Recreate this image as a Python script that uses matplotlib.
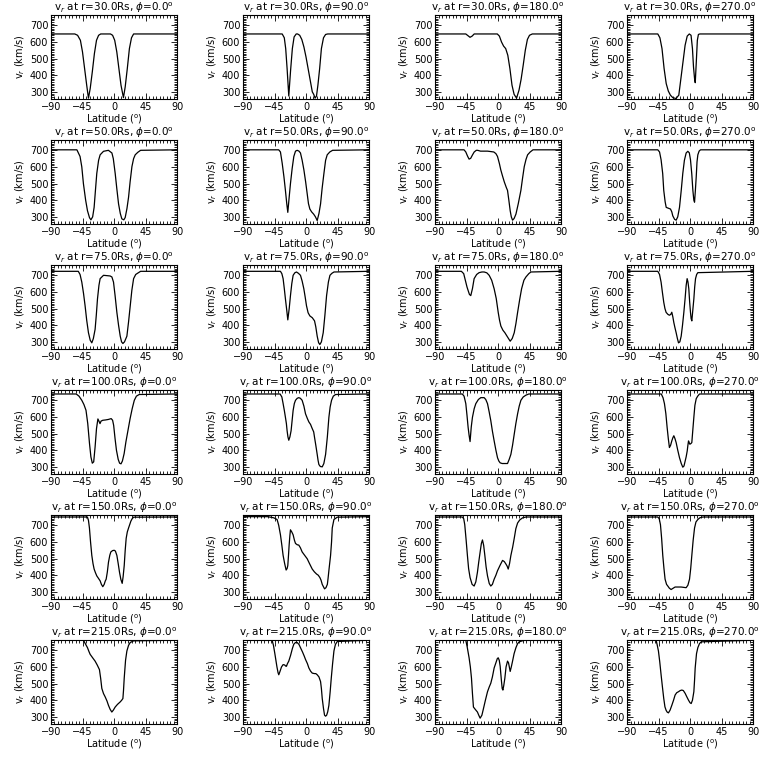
import matplotlib
matplotlib.use("Agg")
import matplotlib.pyplot as plt
from matplotlib.ticker import MultipleLocator

radii = [30, 50, 75, 100, 150, 215]
phis = [0, 90, 180, 270]

# ---- r = 30 Rs ----
lat_30_0 = [-90, -56, -52, -48, -45, -42, -39, -36.5, -34, -31, -28, -25, -22, -19, -5, -2, 1, 4, 7, 10, 13.5, 16, 19, 22, 25, 28, 90]
v_30_0 = [648, 648, 640, 610, 540, 440, 340, 262, 320, 420, 530, 610, 640, 648, 648, 640, 610, 540, 440, 340, 265, 330, 440, 560, 625, 648, 648]
lat_30_90 = [-90, -34, -31, -29, -27, -24.6, -22, -19.5, -17, -14, -12, -9, -6, -3, 0, 3, 6, 9, 11, 13, 15, 17, 19.5, 22, 25, 28, 31, 90]
v_30_90 = [648, 648, 625, 560, 440, 275, 430, 560, 630, 648, 648, 640, 615, 570, 510, 440, 370, 300, 285, 262, 275, 340, 440, 560, 625, 645, 648, 648]
lat_30_180 = [-90, -46, -43, -40, -37, -34, -1, 2, 5, 8, 11, 14, 17, 20, 23, 26.5, 30, 33, 36, 39, 42, 45, 49, 90]
v_30_180 = [648, 648, 638, 628, 635, 648, 648, 635, 600, 575, 560, 520, 440, 340, 285, 262, 310, 375, 460, 550, 615, 640, 648, 648]
lat_30_270 = [-90, -46, -43, -40, -37, -34, -31, -28, -24.6, -20, -16, -13, -10, -7, -4, -1, 1.5, 3.5, 5, 6.5, 7.5, 9, 10.5, 12, 14, 90]
v_30_270 = [648, 648, 625, 560, 440, 350, 305, 280, 265, 260, 280, 380, 480, 580, 635, 648, 640, 560, 450, 380, 355, 480, 610, 645, 648, 648]

# ---- r = 50 Rs ----
lat_50_0 = [-90, -53, -48.5, -46, -43.7, -40.5, -37.9, -35, -33, -30.5, -28.4, -26.5, -24.6, -22, -19.8, -15, -8, -3, -1, 1.7, 4, 6.5, 9, 11.2, 14, 16, 18.5, 20.8, 23, 25.6, 28, 30.3, 34, 38, 90]
v_50_0 = [703, 703, 663, 600, 500, 400, 337, 295, 282, 300, 357, 460, 561, 640, 673, 694, 700, 684, 650, 561, 470, 378, 320, 288, 282, 296, 350, 418, 510, 602, 650, 673, 688, 700, 703]
lat_50_90 = [-90, -39, -36.5, -34, -31.5, -29.4, -27.5, -26, -24, -22.2, -19.8, -17.4, -15, -12.6, -10, -7.9, -5.5, -3, -0.5, 1.7, 3.5, 5.5, 8, 11, 13.5, 16, 18.5, 20.8, 23, 25.6, 28, 30.3, 34, 38, 90]
v_50_90 = [703, 703, 690, 622, 540, 459, 380, 327, 420, 500, 590, 663, 695, 700, 695, 684, 640, 582, 510, 439, 380, 347, 330, 316, 300, 278, 320, 378, 470, 561, 640, 673, 690, 700, 703]
lat_50_180 = [-90, -48.5, -46, -43.5, -41.3, -39, -36.5, -34, -31, -29, -25, -15, -6, -3, -0.7, 2, 4, 6.5, 9, 12, 13.6, 15.5, 17.4, 19, 20.8, 23, 25.6, 29, 32.7, 35, 37.5, 40, 42.3, 46, 50, 90]
v_50_180 = [703, 703, 690, 665, 647, 652, 672, 690, 700, 700, 695, 695, 690, 680, 663, 620, 582, 545, 510, 475, 459, 400, 337, 300, 280, 290, 316, 380, 459, 530, 602, 645, 673, 690, 703, 703]
lat_50_270 = [-90, -46, -43.5, -41.3, -39, -37.5, -35.5, -34, -31, -27.9, -26, -24.6, -22, -19.8, -17.5, -15, -12.5, -10.3, -8, -5.5, -3.1, -1, 0.7, 2.5, 4.1, 5.5, 6.5, 7.7, 8.9, 10, 11.2, 13, 15, 90]
v_50_270 = [703, 703, 690, 643, 560, 459, 390, 357, 352, 347, 330, 306, 285, 280, 300, 357, 460, 561, 640, 684, 694, 685, 643, 560, 459, 400, 388, 460, 541, 630, 673, 695, 703, 703]

# ---- r = 75 Rs ----
lat_75_0 = [-90, -51, -48.5, -46, -43.5, -41.3, -39, -36.5, -34, -31.7, -29.5, -27, -25.3, -23.6, -21.5, -19.8, -15, -10, -5.5, -3, -0.7, 1.5, 4.1, 6.5, 8.9, 10.8, 12.7, 15, 18.4, 20.8, 23.2, 25.5, 28, 31, 35, 38, 90]
v_75_0 = [724, 724, 705, 659, 590, 517, 430, 355, 310, 294, 320, 375, 460, 558, 640, 680, 700, 698, 696, 690, 659, 580, 477, 400, 334, 300, 290, 300, 334, 420, 517, 610, 680, 705, 716, 724, 724]
lat_75_90 = [-90, -36.5, -34.5, -32.7, -31, -29.4, -27.5, -26, -24, -22.2, -20.3, -18.4, -16, -13.6, -10.8, -7.9, -5.5, -3.1, -1.2, 0.7, 3, 5.5, 9, 12.2, 14, 16, 18, 19.8, 22, 24.6, 27, 29.4, 32, 34.2, 37, 40, 90]
v_75_90 = [724, 724, 710, 680, 620, 558, 490, 432, 500, 578, 650, 700, 715, 720, 712, 700, 665, 619, 570, 517, 475, 456, 445, 426, 390, 334, 295, 284, 300, 355, 460, 578, 660, 700, 712, 720, 724]
lat_75_180 = [-90, -52.3, -49, -46, -44.3, -42.7, -40.8, -38.9, -36.5, -34.1, -30.5, -27, -23, -19.8, -16, -12.6, -9, -5.5, -2.5, 0.3, 2.2, 4.1, 7, 9.8, 13.5, 17.4, 20.3, 23.2, 25.6, 28, 31, 33.7, 37, 39.9, 44, 47, 90]
v_75_180 = [724, 724, 710, 659, 630, 609, 585, 578, 620, 680, 705, 716, 720, 720, 715, 700, 670, 619, 560, 477, 430, 395, 370, 355, 330, 304, 320, 355, 410, 477, 555, 619, 670, 690, 710, 720, 724]
lat_75_270 = [-90, -46, -43.5, -41.3, -39.5, -37.5, -35.8, -34.1, -31.5, -29.4, -27.5, -26, -24.5, -23.1, -21.5, -19.8, -18, -16.4, -14.5, -12.6, -10.7, -8.8, -7, -5.5, -4.1, -2.9, -1.7, -0.5, 0.7, 1.6, 2.6, 4, 5.5, 6.7, 7.9, 9.5, 11.2, 90]
v_75_270 = [724, 724, 705, 659, 600, 538, 500, 477, 465, 460, 465, 478, 450, 416, 385, 355, 320, 294, 300, 334, 400, 477, 560, 639, 680, 660, 619, 540, 477, 440, 426, 490, 558, 630, 680, 705, 716, 724]

# ---- r = 100 Rs ----
lat_100_0 = [-90, -54, -50, -46, -43, -40, -37.5, -35, -33, -31, -29, -27, -25, -23, -21.5, -20, -18.5, -16, -12, -8, -4, -2, -0.5, 1.5, 3.5, 6, 8, 10, 12, 14.5, 17, 20, 23, 26, 29, 32, 36, 90]
v_100_0 = [738, 738, 725, 700, 675, 640, 560, 440, 360, 322, 330, 420, 530, 588, 575, 560, 575, 580, 582, 585, 590, 580, 550, 470, 400, 345, 322, 318, 335, 380, 450, 520, 590, 650, 700, 725, 735, 738]
lat_100_90 = [-90, -37, -34.5, -32.7, -31, -29.4, -28, -27, -25.8, -24.6, -23, -21.3, -19.8, -18.4, -16.7, -15, -12.6, -10.3, -8, -5.5, -3, -0.7, 2, 4.1, 6.5, 8.9, 11, 12.2, 14, 16, 17.2, 18.4, 20.5, 23.2, 25.5, 28, 30.5, 32.7, 34.5, 36.5, 39, 42.3, 90]
v_100_90 = [738, 738, 720, 680, 640, 598, 560, 517, 480, 460, 480, 517, 580, 639, 680, 700, 712, 716, 712, 700, 665, 619, 590, 570, 555, 530, 510, 477, 430, 375, 340, 314, 302, 300, 320, 375, 480, 598, 660, 700, 725, 735, 738]
lat_100_180 = [-90, -51, -48.5, -46, -44.3, -42.7, -41.3, -39.9, -38.2, -36.5, -34, -31.7, -28, -24.6, -19.8, -17.5, -15, -12.6, -10.3, -8, -5.5, -3, -0.7, 1.2, 3.1, 6, 8.9, 11.2, 13.6, 16, 18.4, 20.8, 23.2, 25.5, 28, 30.3, 32.7, 36, 39.9, 44, 90]
v_100_180 = [738, 738, 725, 680, 610, 538, 490, 452, 540, 598, 650, 680, 705, 716, 716, 705, 680, 630, 578, 515, 456, 400, 355, 335, 324, 320, 320, 320, 320, 345, 375, 430, 497, 560, 619, 665, 700, 720, 731, 738, 738]
lat_100_270 = [-90, -41, -38.5, -36.5, -34.5, -32.7, -31, -29.4, -27.7, -26, -24.5, -23.1, -21.5, -19.8, -17.5, -15, -12.5, -10.3, -8.6, -6.9, -5.5, -4, -3, -2.1, -1.1, -0.2, 1.3, 2.6, 4, 5.5, 7, 8.9, 11, 13.6, 90]
v_100_270 = [738, 738, 715, 680, 620, 538, 470, 416, 430, 456, 475, 487, 470, 446, 400, 355, 320, 298, 305, 335, 360, 395, 430, 456, 445, 436, 440, 446, 520, 598, 670, 710, 725, 738, 738]

# ---- r = 150 Rs ----
lat_150_0 = [-90, -38, -36.5, -35.1, -33.5, -31.7, -30, -28.4, -26.5, -24.6, -22, -19.8, -18, -16, -14, -12.5, -11.2, -9.5, -7.9, -6, -4.5, -2, 0.3, 2, 4.1, 6, 7.9, 9.8, 11.7, 13, 14.6, 16, 17.4, 19, 20.8, 22.5, 24.1, 26, 28, 90]
v_150_0 = [750, 750, 730, 684, 600, 519, 470, 437, 415, 396, 380, 366, 345, 331, 345, 365, 376, 420, 478, 520, 540, 548, 550, 545, 519, 470, 417, 375, 351, 390, 458, 550, 622, 660, 684, 705, 725, 740, 749, 750]
lat_150_90 = [-90, -60, -55, -50.8, -46, -41.3, -39, -36.5, -34.5, -32.7, -30.5, -28.4, -27, -26, -25, -24.1, -23, -22.2, -20.3, -18.4, -16.5, -15, -12.5, -10.3, -8, -5.5, -2, 1.7, 5, 8.9, 12, 15.1, 17.5, 19.8, 21.5, 23.2, 25, 26.5, 28.5, 30.5, 31.5, 33, 35.1, 36.5, 37.5, 39.9, 44.7, 90]
v_150_90 = [752, 752, 752, 749, 745, 735, 700, 643, 580, 519, 470, 431, 440, 458, 520, 581, 640, 673, 660, 643, 610, 591, 583, 581, 565, 540, 520, 499, 470, 437, 420, 407, 400, 386, 370, 345, 330, 318, 325, 345, 380, 440, 519, 600, 684, 735, 749, 752]
lat_150_180 = [-90, -51, -49, -47.5, -45.5, -43.7, -42, -39.9, -37, -34.1, -31.7, -29.4, -27.5, -25.5, -23.8, -22.2, -20.5, -18.8, -17, -15, -12.5, -10.3, -8, -5.5, -3, -0.7, 3, 6.5, 9, 11.2, 13, 14.6, 16.5, 18.4, 21, 23.2, 25.5, 28, 31, 35.1, 40, 90]
v_150_180 = [750, 750, 740, 704, 610, 519, 440, 386, 345, 335, 360, 417, 480, 540, 590, 612, 580, 519, 450, 396, 350, 335, 345, 376, 400, 427, 460, 489, 482, 468, 455, 437, 470, 519, 570, 622, 680, 714, 732, 745, 750, 750]
lat_150_270 = [-90, -46, -44, -42.2, -40.5, -38.9, -37.2, -35.6, -33.5, -31.7, -29.5, -27, -24, -21.3, -17, -12.6, -9, -5.5, -3, -0.7, 1, 2.6, 4.5, 6.5, 8.5, 11.2, 14, 18.4, 90]
v_150_270 = [750, 750, 740, 704, 620, 519, 440, 376, 345, 335, 322, 314, 322, 329, 329, 329, 327, 325, 340, 376, 440, 519, 610, 684, 720, 735, 745, 750, 750]

# ---- r = 215 Rs ----
lat_215_0 = [-90, -43.7, -41, -37.9, -36, -34.1, -30.5, -27, -24, -20.8, -19, -17.4, -15, -12.6, -10, -7.9, -5.5, -3.1, -1, 1.7, 5, 8.9, 11, 12.7, 13.6, 14.6, 16.5, 18.4, 20.8, 23.2, 28, 90]
v_215_0 = [761, 761, 740, 716, 695, 676, 655, 635, 612, 584, 530, 471, 440, 420, 395, 369, 345, 329, 340, 359, 375, 390, 400, 410, 460, 533, 640, 696, 730, 747, 757, 761]
lat_215_90 = [-90, -48.5, -46.5, -44.5, -43, -41.5, -39.9, -38.9, -37, -35, -32.7, -30.5, -29, -27.9, -26.5, -24.6, -22, -19.5, -17.4, -15, -12.6, -10, -7.9, -5, -2.5, -0.7, 2, 4.1, 6.5, 8.9, 12, 14, 16, 18.5, 20.8, 22, 23.2, 25, 26.5, 28, 29.5, 31, 32.7, 34.5, 36.1, 38, 39.9, 42, 44.7, 90]
v_215_90 = [761, 761, 730, 680, 640, 600, 565, 553, 575, 600, 614, 612, 605, 604, 620, 635, 670, 710, 737, 747, 747, 735, 716, 690, 665, 645, 620, 594, 575, 563, 560, 560, 553, 540, 512, 470, 410, 350, 310, 304, 310, 330, 369, 450, 533, 620, 696, 735, 753, 761]
lat_215_180 = [-90, -46, -44, -41.3, -39.5, -37.9, -36.5, -35.1, -32.5, -29.4, -27.5, -25.5, -23, -20.8, -18, -15, -12.5, -10.3, -8, -5.5, -3, -1, 0.3, 1.8, 3.1, 4, 5, 6, 7, 8.3, 9.8, 11.5, 13.6, 15, 16, 17.4, 19, 20.8, 23, 25.6, 28, 30.3, 34, 37.5, 90]
v_215_180 = [761, 761, 720, 655, 600, 533, 440, 359, 345, 329, 310, 292, 310, 349, 400, 451, 480, 502, 540, 594, 625, 650, 655, 640, 604, 560, 512, 470, 461, 490, 533, 600, 635, 625, 604, 573, 600, 635, 680, 716, 740, 751, 756, 761, 761]
lat_215_270 = [-90, -48.5, -47, -45.1, -43.2, -41.3, -39.4, -37.5, -35.8, -34.1, -32.5, -30.8, -28.5, -26, -23.5, -21.3, -19, -16.5, -14, -11.7, -9.5, -6.9, -4.5, -2.1, 0, 1.7, 3.5, 5.5, 6.5, 7.4, 9.3, 11.2, 13.5, 16, 90]
v_215_270 = [761, 761, 735, 696, 630, 553, 480, 410, 360, 339, 328, 324, 340, 369, 400, 431, 445, 451, 458, 461, 458, 441, 420, 400, 385, 380, 400, 451, 520, 594, 680, 716, 740, 751, 761]

curves = [
    [(lat_30_0, v_30_0), (lat_30_90, v_30_90), (lat_30_180, v_30_180), (lat_30_270, v_30_270)],
    [(lat_50_0, v_50_0), (lat_50_90, v_50_90), (lat_50_180, v_50_180), (lat_50_270, v_50_270)],
    [(lat_75_0, v_75_0), (lat_75_90, v_75_90), (lat_75_180, v_75_180), (lat_75_270, v_75_270)],
    [(lat_100_0, v_100_0), (lat_100_90, v_100_90), (lat_100_180, v_100_180), (lat_100_270, v_100_270)],
    [(lat_150_0, v_150_0), (lat_150_90, v_150_90), (lat_150_180, v_150_180), (lat_150_270, v_150_270)],
    [(lat_215_0, v_215_0), (lat_215_90, v_215_90), (lat_215_180, v_215_180), (lat_215_270, v_215_270)],
]

plt.rcParams['font.family'] = ['DejaVu Sans']
plt.rcParams['mathtext.fontset'] = 'dejavusans'

fig = plt.figure(figsize=(7.68, 7.68), dpi=100)
W = 768.0
col_left = [51, 243, 435, 627]
ax_w, ax_h = 126, 84

for i, r in enumerate(radii):
    top = 15 + 125 * i
    for j, phi in enumerate(phis):
        ax = fig.add_axes([col_left[j] / W, 1 - (top + ax_h) / W, ax_w / W, ax_h / W])
        lat, v = curves[i][j]
        ax.plot(lat, v, color='black', lw=0.9)
        ax.set_xlim(-90, 90)
        ax.set_ylim(257, 762)
        ax.set_xticks([-90, -45, 0, 45, 90])
        ax.set_yticks([300, 400, 500, 600, 700])
        ax.xaxis.set_minor_locator(MultipleLocator(5))
        ax.yaxis.set_minor_locator(MultipleLocator(10))
        ax.tick_params(which='both', direction='in', top=True, right=True,
                       labelsize=7, width=0.6, pad=2)
        ax.tick_params(which='major', length=4)
        ax.tick_params(which='minor', length=2)
        for s in ax.spines.values():
            s.set_linewidth(0.8)
        ax.set_title(r'v$_r$ at r=%.1fRs, $\phi$=%.1f$^\mathrm{o}$' % (r, phi),
                     fontsize=7.5, pad=1.5)
        ax.set_xlabel(r'Latitude ($^\mathrm{o}$)', fontsize=7, labelpad=0.5)
        ax.set_ylabel(r'v$_r$ (km/s)', fontsize=7, labelpad=2)

fig.savefig('out.png', dpi=100, facecolor='white')
